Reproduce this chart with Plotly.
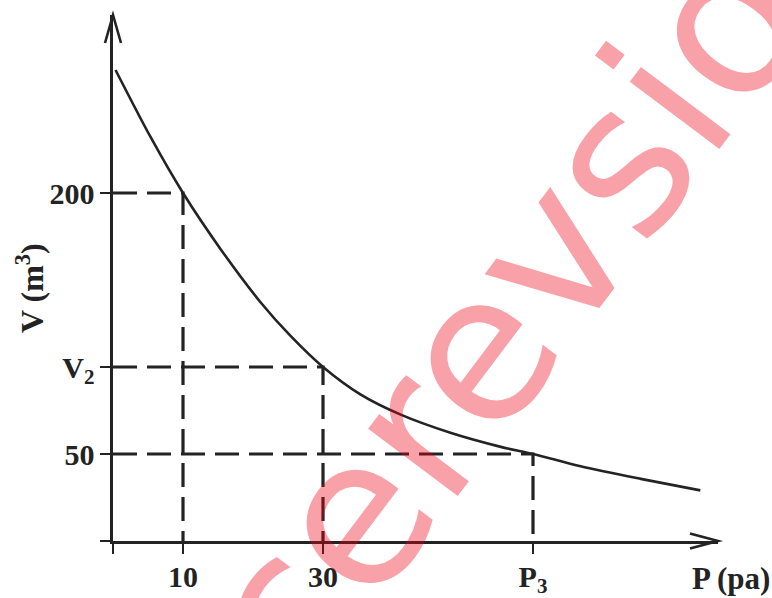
import plotly.graph_objects as go

# Curve (P in pa, V in m^3)
curve_P = [0.36, 5.4, 10, 15.4, 21.1, 25.4, 30, 35.4, 41.1, 48.2, 55.4, 60, 66.8, 75.4, 83.9]
curve_V = [270.7, 231.9, 200, 167.6, 137.1, 117.7, 100, 84.1, 72.6, 62.2, 54.1, 50, 42.9, 35.7, 29.1]

# Marked points (dashed guides)
ref_P = [10, 30, 60]
ref_V = [200, 100, 50]

# Tick labels
x_tickvals = [0, 10, 30, 60]
x_ticktext = ["", "10", "30", "P<sub>3</sub>"]
y_tickvals = [0, 50, 100, 200]
y_ticktext = ["", "50", "V<sub>2</sub>", "200"]

ink = "#232323"
serif = "Liberation Serif"

fig = go.Figure()

for p, v in zip(ref_P, ref_V):
    fig.add_trace(go.Scatter(
        x=[0, p, p], y=[v, v, 0], mode="lines",
        line=dict(color=ink, width=3.2, dash="24px,10px"),
        hoverinfo="skip", showlegend=False))

fig.add_trace(go.Scatter(
    x=curve_P, y=curve_V, mode="lines",
    line=dict(color=ink, width=2.6, shape="spline", smoothing=0.8),
    showlegend=False))

W, H = 772, 598
L, R, T, B = 113, 54, 15, 57
pw, ph = W - L - R, H - T - B
x_max = pw / 7.0
y_max = ph / 1.74

def px(X):
    return (X - L) / pw

def py(Y):
    return (H - B - Y) / ph

tickfont = dict(family=serif, size=30, color=ink, weight="bold")

fig.update_layout(
    width=W, height=H,
    margin=dict(l=L, r=R, t=T, b=B, autoexpand=False),
    plot_bgcolor="white", paper_bgcolor="white",
    showlegend=False,
    xaxis=dict(range=[0, x_max], showgrid=False, zeroline=False, automargin=False,
               showline=True, linecolor=ink, linewidth=2.6,
               ticks="outside", ticklen=10, tickwidth=2.6, tickcolor=ink,
               ticklabelstandoff=-3,
               tickvals=x_tickvals, ticktext=x_ticktext, tickfont=tickfont),
    yaxis=dict(range=[0, y_max], showgrid=False, zeroline=False, automargin=False,
               showline=True, linecolor=ink, linewidth=2.6,
               ticks="outside", ticklen=10, tickwidth=2.6, tickcolor=ink,
               tickvals=y_tickvals, ticktext=y_ticktext, tickfont=tickfont),
    shapes=[
        dict(type="path", xref="paper", yref="paper", xsizemode="pixel", ysizemode="pixel",
             xanchor=1, yanchor=0, path="M-28,7.5 L0,0 L-28,-7.5",
             line=dict(color=ink, width=2.6)),
        dict(type="path", xref="paper", yref="paper", xsizemode="pixel", ysizemode="pixel",
             xanchor=0, yanchor=1, path="M-8,-28 L0,0 L8,-28",
             line=dict(color=ink, width=2.6)),
    ],
    annotations=[
        dict(text="V (m<sup>3</sup>)", xref="paper", yref="paper",
             x=px(30), y=py(288), xanchor="center", yanchor="middle",
             showarrow=False, textangle=-90,
             font=dict(family=serif, size=32, color=ink, weight="bold")),
        dict(text="P (pa)", xref="paper", yref="paper",
             x=px(731), y=py(578), xanchor="center", yanchor="middle",
             showarrow=False,
             font=dict(family=serif, size=31, color=ink, weight="bold")),
        dict(text="cerevsio", xref="paper", yref="paper",
             x=px(503), y=py(318), xanchor="center", yanchor="middle",
             showarrow=False, textangle=-53,
             font=dict(family="DejaVu Sans", size=205, color="rgba(240,0,20,0.37)")),
    ],
)

fig.write_html("out.html",
               config={"displayModeBar": False, "staticPlot": True},
               post_script="document.body.style.margin='0px';document.body.style.overflow='hidden';")
